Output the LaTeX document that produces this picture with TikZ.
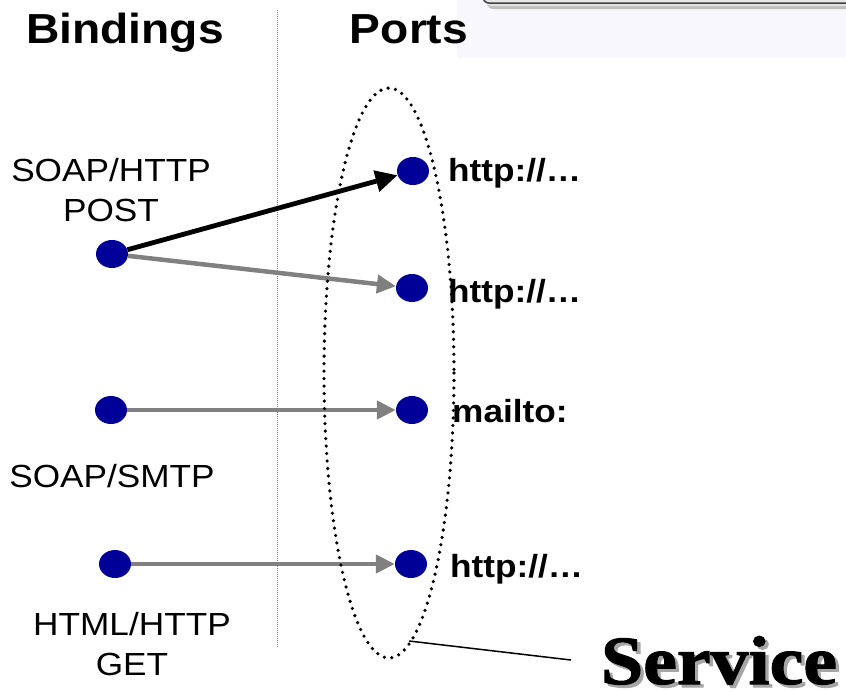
\documentclass[tikz,border=0pt]{standalone}
\usepackage{fontspec}
\setmainfont{Liberation Sans}
\newfontfamily\servicefont{Liberation Serif}[UprightFeatures={FakeBold=1.5},BoldFeatures={FakeBold=1.5}]
\usetikzlibrary{arrows.meta,shapes.geometric}
\definecolor{dotblue}{RGB}{0,0,153}
\definecolor{linkgray}{RGB}{128,128,128}
\definecolor{panel}{RGB}{248,248,252}
\newcommand{\shadowed}[1]{\makebox[0pt][l]{\hspace{3pt}\raisebox{-3pt}{\color{black!35}#1}}#1}
\tikzset{
  x=1pt, y=-1pt,
  port/.style={ellipse, fill=dotblue, inner sep=0pt, minimum width=32pt, minimum height=28pt},
  label/.style={inner sep=0pt, xscale=1.1, font=\fontsize{32}{40}\selectfont, align=center},
  addr/.style={inner sep=0pt, xscale=1.1, anchor=base west, font=\bfseries\fontsize{32}{40}\selectfont},
  heading/.style={inner sep=0pt, xscale=1.1, anchor=base, font=\bfseries\fontsize{42}{50}\selectfont},
  caption/.style={inner sep=0pt, anchor=base, xscale=1.1, font=\servicefont\bfseries\fontsize{69}{80}\selectfont},
  mainlink/.style={line width=4.8pt, black, -{Triangle[length=22pt,width=21pt]}},
  sidelink/.style={line width=4.5pt, linkgray, -{Triangle[length=19pt,width=18pt]}},
}
\begin{document}
\begin{tikzpicture}
\useasboundingbox (0,0) rectangle (846,691);
\clip (0,0) rectangle (846,691);

% panel in the upper right corner
\fill[panel] (457,0) rectangle (846,58);
\fill[black!25, rounded corners=6pt] (487,-40) rectangle (860,9);
\fill[black!12, rounded corners=6pt] (485,-40) rectangle (860,6);
\draw[black!75, line width=1.5pt, fill=black!10, rounded corners=6pt] (483,-40) rectangle (860,3);

% separator between the two columns
\draw[gray, line width=0.8pt, dash pattern=on 1pt off 1pt] (277,10) -- (277,648);

% headings
\node[heading] (hb) at (125,43) {Bindings};
\node[heading] (hp) at (409,43) {Ports};

% binding points
\node[port] (b1) at (112,254) {};
\node[port] (b2) at (111,410) {};
\node[port] (b3) at (115,564) {};

% port points
\node[port] (p1) at (413,171) {};
\node[port] (p2) at (412,288) {};
\node[port] (p3) at (412,410) {};
\node[port] (p4) at (411,564) {};

% binding labels (anchored at the baseline of their last line)
\node[label, anchor=base] (l1) at (111,221) {SOAP/HTTP\\POST};
\node[label, anchor=base] (l2) at (112,487) {SOAP/SMTP};
\node[label, anchor=base] (l3) at (132,675) {HTML/HTTP\\GET};

% port addresses
\node[addr] (a1) at (448,181) {http://…};
\node[addr] (a2) at (448,302) {http://…};
\node[addr] (a3) at (452,422) {mailto:};
\node[addr] (a4) at (450,577) {http://…};

% links from bindings to ports
\draw[mainlink] (b1) -- (p1);
\draw[sidelink] (b1) -- (p2);
\draw[sidelink] (b2) -- (p3);
\draw[sidelink] (b3) -- (p4);

% the service grouping the ports
\draw[black, line width=3.6pt, dash pattern=on 0pt off 7.5pt, line cap=round]
  (389,373) ellipse [x radius=65, y radius=285];

% service caption with its drop shadow
\node[caption] (sv) at (719,684) {\shadowed{Service}};
\coordinate (rim) at (409,641);
\coordinate (tail) at (571,660);
\draw[black, line width=1.5pt] (rim) -- (tail);
\end{tikzpicture}
\end{document}
